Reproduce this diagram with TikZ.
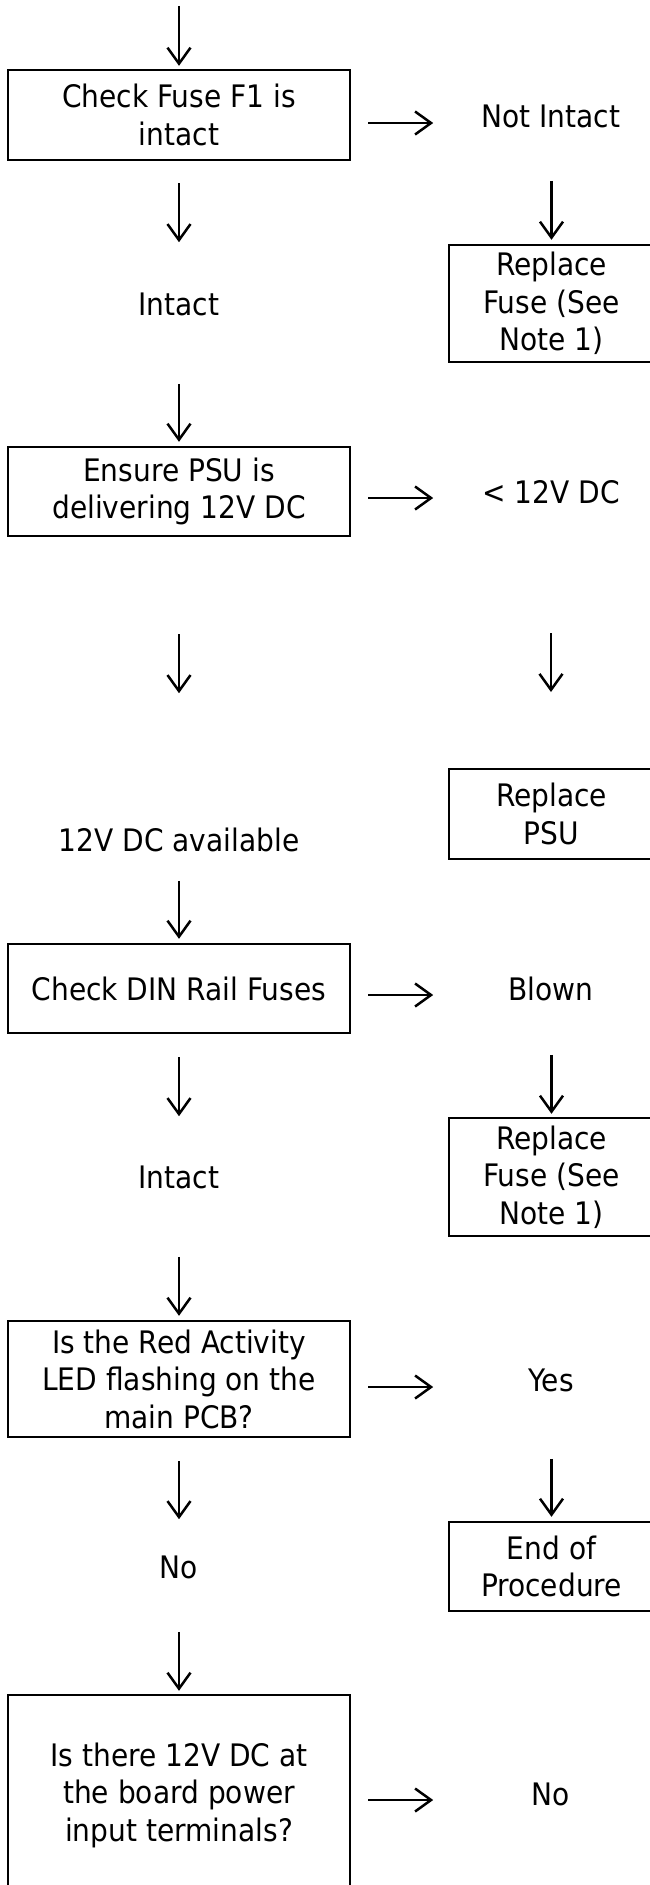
\documentclass[tikz,border=0pt]{standalone}
\usepackage{fontspec}
\setmainfont{DejaVu Sans}[FakeStretch=0.905]
\usetikzlibrary{arrows.meta,calc}
\begin{document}
\begin{tikzpicture}[x=1pt,y=-1pt,
  every node/.style={font=\fontsize{31}{37.5}\selectfont, inner sep=0pt, align=center},
  lbox/.style={draw, line width=2.4pt, minimum width=342pt},
  rbox/.style={draw, line width=2.4pt, minimum width=205pt},
  arr/.style={-{Straight Barb[length=16pt,width=23pt,line width=2.5pt]}, line width=2.5pt}
]
\useasboundingbox (0,0) rectangle (650,1885);
\clip (0,0) rectangle (650,1885);

% left column boxes
\node[lbox, minimum height=90pt]  (b1) at (179,115)    {Check Fuse F1 is\\intact};
\node[lbox, minimum height=89pt]  (b2) at (179,491.5)  {Ensure PSU is\\delivering 12V DC};
\node[lbox, minimum height=89pt]  (b3) at (179,988.5)  {Check DIN Rail Fuses};
\node[lbox, minimum height=116pt] (b4) at (179,1379)   {Is the Red Activity\\LED flashing on the\\main PCB?};
\node[lbox, minimum height=200pt] (b5) at (179,1795)   {Is there 12V DC at\\the board power\\input terminals?};

% left labels
\node (i1) at (179,304)  {Intact};
\node (av) at (179,840)  {12V DC available};
\node (i2) at (179,1177) {Intact};
\node (n1) at (179,1567) {No};

% right labels
\node (ni) at (551,116)    {Not Intact};
\node (lt) at (551,492)    {< 12V DC};
\node (bl) at (551,989)    {Blown};
\node (ys) at (551,1380)   {Yes};
\node (n2) at (551,1794)   {No};

% right boxes
\node[rbox, minimum height=117pt] (r1) at (551.5,303.5) {Replace\\Fuse (See\\Note 1)};
\node[rbox, minimum height=90pt]  (r2) at (551.5,814)   {Replace\\PSU};
\node[rbox, minimum height=118pt] (r3) at (551.5,1177)  {Replace\\Fuse (See\\Note 1)};
\node[rbox, minimum height=89pt]  (r4) at (551.5,1566.5) {End of\\Procedure};

% left down arrows
\draw[arr] ($(b1.north)+(0,-63)$) -- ($(b1.north)+(0,-3)$);
\draw[arr] ($(b1.south)+(0,22)$) -- ($(b1.south)+(0,81)$);
\draw[arr] ($(b2.north)+(0,-62)$) -- ($(b2.north)+(0,-4)$);
\draw[arr] ($(b2.south)+(0,97)$) -- ($(b2.south)+(0,156)$);
\draw[arr] ($(b3.north)+(0,-62)$) -- ($(b3.north)+(0,-4)$);
\draw[arr] ($(b3.south)+(0,23)$) -- ($(b3.south)+(0,82)$);
\draw[arr] ($(b4.north)+(0,-63)$) -- ($(b4.north)+(0,-4)$);
\draw[arr] ($(b4.south)+(0,23)$) -- ($(b4.south)+(0,81)$);
\draw[arr] ($(b5.north)+(0,-62)$) -- ($(b5.north)+(0,-3)$);

% right down arrows
\draw[arr] ($(r1.north)+(0,-63)$) -- ($(r1.north)+(0,-4)$);
\draw[arr] ($(lt.center)+(0,141)$) -- ($(lt.center)+(0,200)$);
\draw[arr] ($(r3.north)+(0,-62)$) -- ($(r3.north)+(0,-3)$);
\draw[arr] ($(r4.north)+(0,-62)$) -- ($(r4.north)+(0,-4)$);

% horizontal arrows
\draw[arr] ($(b1.east)+(17,8)$) -- ($(b1.east)+(82,8)$);
\draw[arr] ($(b2.east)+(17,6.5)$) -- ($(b2.east)+(82,6.5)$);
\draw[arr] ($(b3.east)+(17,6.5)$) -- ($(b3.east)+(82,6.5)$);
\draw[arr] ($(b4.east)+(17,8)$) -- ($(b4.east)+(82,8)$);
\draw[arr] ($(b5.east)+(17,5)$) -- ($(b5.east)+(82,5)$);
\end{tikzpicture}
\end{document}
